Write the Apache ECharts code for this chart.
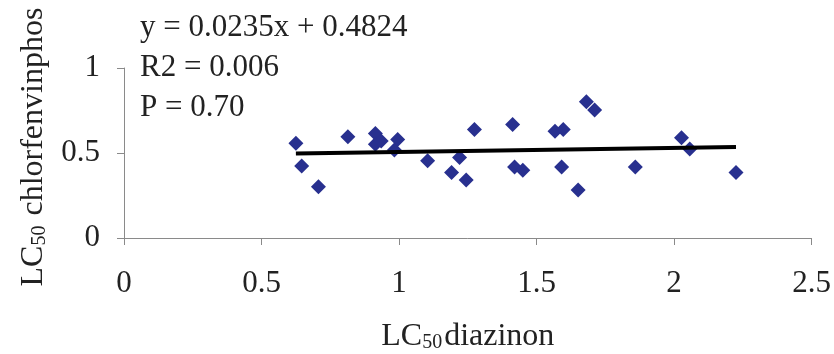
<!DOCTYPE html>
<html>
<head>
<meta charset="utf-8">
<script src="https://cdn.jsdelivr.net/npm/echarts@6/dist/echarts.min.js"></script>
<style>
  html, body { margin: 0; padding: 0; background: #fff; }
  #chart { width: 834px; height: 354px; }
</style>
</head>
<body>
<div id="chart"></div>
<script>
// LC50 diazinon (x) vs LC50 chlorfenvinphos (y)
const diazinon = [0.625, 0.646, 0.707, 0.814, 0.914, 0.914, 0.935, 0.995, 0.983, 1.104,
  1.191, 1.220, 1.244, 1.274, 1.413, 1.420, 1.450, 1.567, 1.597, 1.591,
  1.681, 1.711, 1.651, 1.859, 2.027, 2.057, 2.225];
const chlorfenvinphos = [0.557, 0.424, 0.301, 0.596, 0.615, 0.552, 0.571, 0.580, 0.517, 0.454,
  0.385, 0.473, 0.341, 0.638, 0.667, 0.418, 0.398, 0.628, 0.638, 0.418,
  0.801, 0.753, 0.283, 0.418, 0.590, 0.523, 0.385];
const slope = 0.0235;
const intercept = 0.4824;
const statLines = ["y = 0.0235x + 0.4824", "R2 = 0.006", "P = 0.70"];

const font = "Liberation Serif";
const points = diazinon.map((x, i) => [x, chlorfenvinphos[i]]);
const xMin = Math.min(...diazinon);
const xMax = Math.max(...diazinon);
const trend = [xMin, xMax].map((x) => [x, slope * x + intercept]);

const nameRich = {
  a: { fontSize: 32, fontFamily: font, color: "#222" },
  s: { fontSize: 20, fontFamily: font, color: "#222", verticalAlign: "bottom", padding: [8, 2, 0, 0] },
};

const chart = echarts.init(document.getElementById("chart"));
chart.setOption({
  animation: false,
  textStyle: { fontFamily: font },
  grid: { left: 124, right: 19, top: 68, bottom: 113 },
  xAxis: {
    type: "value",
    min: 0,
    max: 2.5,
    interval: 0.5,
    splitLine: { show: false },
    axisLine: { lineStyle: { color: "#8a8a8a", width: 1 } },
    axisTick: { show: true, inside: false, length: 7, lineStyle: { color: "#8a8a8a" } },
    axisLabel: { color: "#222", fontSize: 31, fontFamily: font, margin: 30 },
    name: "{a|LC}{s|50}{a|diazinon}",
    nameLocation: "middle",
    nameGap: 83,
    nameTextStyle: { rich: nameRich },
  },
  yAxis: {
    type: "value",
    min: 0,
    max: 1,
    interval: 0.5,
    splitLine: { show: false },
    axisLine: { show: true, lineStyle: { color: "#8a8a8a", width: 1 } },
    axisTick: { show: true, inside: false, length: 7, lineStyle: { color: "#8a8a8a" } },
    axisLabel: { color: "#222", fontSize: 31, fontFamily: font, margin: 24 },
    name: "{a|LC}{s|50}{a| chlorfenvinphos}",
    nameLocation: "middle",
    nameGap: 74,
    nameTextStyle: { rich: nameRich, padding: [0, 0, 0, 12] },
  },
  graphic: statLines.map((t, i) => ({
    type: "text",
    left: 140,
    top: 12 + i * 40,
    style: { text: t, font: "31px " + font, fill: "#222" },
  })),
  series: [
    {
      type: "scatter",
      data: points,
      symbol: "diamond",
      symbolSize: 15,
      itemStyle: { color: "#28308f", opacity: 1 },
      z: 2,
    },
    {
      type: "line",
      data: trend,
      symbol: "none",
      lineStyle: { color: "#000", width: 4 },
      z: 3,
    },
  ],
});
</script>
</body>
</html>
